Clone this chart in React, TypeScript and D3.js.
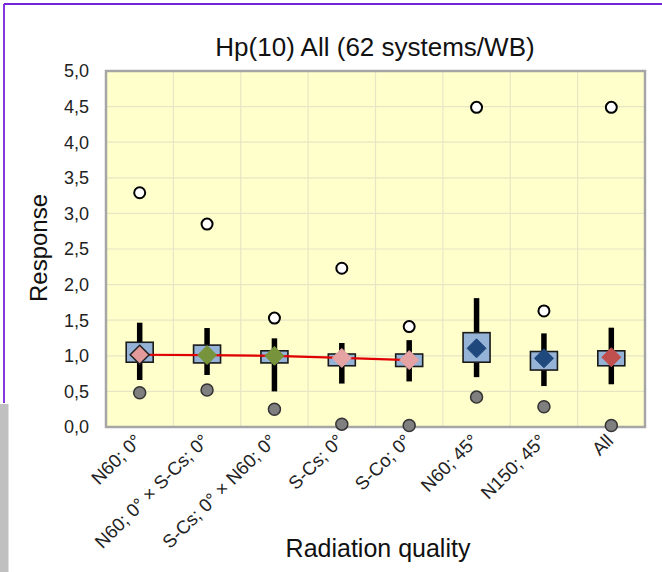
import React from "react";
import * as d3 from "d3";

const width = 662;
const height = 572;

const categories = [
  "N60; 0°",
  "N60; 0° × S-Cs; 0°",
  "S-Cs; 0° × N60; 0°",
  "S-Cs; 0°",
  "S-Co; 0°",
  "N60; 45°",
  "N150; 45°",
  "All",
];
const maxValues = [3.29, 2.85, 1.53, 2.23, 1.41, 4.49, 1.63, 4.49];
const whiskerHigh = [1.465, 1.39, 1.245, 1.18, 1.22, 1.81, 1.315, 1.395];
const q3Values = [1.19, 1.15, 1.07, 1.025, 1.025, 1.325, 1.06, 1.07];
const meanValues = [1.015, 1.01, 1.0, 0.97, 0.94, 1.105, 0.965, 0.98];
const q1Values = [0.91, 0.9, 0.9, 0.86, 0.85, 0.91, 0.8, 0.86];
const whiskerLow = [0.66, 0.73, 0.5, 0.61, 0.64, 0.7, 0.575, 0.6];
const minValues = [0.48, 0.52, 0.25, 0.04, 0.02, 0.42, 0.285, 0.02];
const diamondColors = ["#e29a9a", "#77933c", "#77933c", "#e6a3a3", "#e6a3a3", "#1f497d", "#1f497d", "#c0504d"];
const trendCount = 5; // red line joins the first five means
const yTicks = [0, 0.5, 1, 1.5, 2, 2.5, 3, 3.5, 4, 4.5, 5];

const plot = { left: 106, right: 645, top: 71, bottom: 427 };
const font = "Arial, 'Liberation Sans', sans-serif";

export default function App() {
  const x = d3.scaleBand().domain(categories).range([plot.left, plot.right]);
  const y = d3.scaleLinear().domain([0, 5]).range([plot.bottom, plot.top]);
  const cx = (c: string) => (x(c) as number) + x.bandwidth() / 2;
  const fmt = (v: number) => d3.format(".1f")(v).replace(".", ",");

  const line = d3
    .line<number>()
    .x((_, i) => cx(categories[i]))
    .y((d) => y(d));

  const boxW = 27;
  const dia = 9.5;

  return (
    <svg width={width} height={height} style={{ position: "absolute", left: 0, top: 0 }} fontFamily={font}>
      <rect width={width} height={height} fill="#fff" />
      <line x1={4} y1={4} x2={width} y2={4} stroke="#7424d8" strokeWidth={1.8} />
      <line x1={4} y1={4} x2={4} y2={403} stroke="#7424d8" strokeWidth={1.8} />
      <rect x={0} y={404} width={8.5} height={height - 404} fill="#c0c0c0" />

      <text x={375} y={56} textAnchor="middle" fontSize={26} fill="#111">
        Hp(10) All (62 systems/WB)
      </text>

      <rect x={plot.left} y={plot.top} width={plot.right - plot.left} height={plot.bottom - plot.top} fill="#ffffcc" />
      {yTicks.map((t) => (
        <line key={"h" + t} x1={plot.left} x2={plot.right} y1={y(t)} y2={y(t)} stroke="#e6e6c4" strokeWidth={1.2} />
      ))}
      {categories.slice(1).map((c) => (
        <line key={"v" + c} x1={x(c)} x2={x(c)} y1={plot.top} y2={plot.bottom} stroke="#e6e6c4" strokeWidth={1.2} />
      ))}
      <rect
        x={plot.left}
        y={plot.top}
        width={plot.right - plot.left}
        height={plot.bottom - plot.top}
        fill="none"
        stroke="#a6a6a6"
        strokeWidth={2.5}
      />

      {yTicks.map((t) => (
        <text key={"t" + t} x={89} y={y(t)} dy="0.35em" textAnchor="end" fontSize={18} fill="#222">
          {fmt(t)}
        </text>
      ))}
      <text transform={`translate(47,248) rotate(-90)`} textAnchor="middle" fontSize={24} fill="#111">
        Response
      </text>

      {categories.map((c) => (
        <text
          key={"l" + c}
          transform={`translate(${cx(c) + 3},${442}) rotate(-45)`}
          textAnchor="end"
          fontSize={18.5}
          fill="#222"
        >
          {c}
        </text>
      ))}
      <text x={378} y={557} textAnchor="middle" fontSize={25} fill="#111">
        Radiation quality
      </text>

      {categories.map((c, i) => (
        <line
          key={"w" + c}
          x1={cx(c)}
          x2={cx(c)}
          y1={y(whiskerLow[i])}
          y2={y(whiskerHigh[i])}
          stroke="#000"
          strokeWidth={5.5}
        />
      ))}
      {categories.map((c, i) => (
        <rect
          key={"b" + c}
          x={cx(c) - boxW / 2}
          y={y(q3Values[i])}
          width={boxW}
          height={y(q1Values[i]) - y(q3Values[i])}
          fill="#95b3d7"
          stroke="#1a1a1a"
          strokeWidth={1.6}
        />
      ))}
      <path d={line(meanValues.slice(0, trendCount)) || ""} fill="none" stroke="#e00000" strokeWidth={2.2} />
      {categories.map((c, i) => {
        const px = cx(c);
        const py = y(meanValues[i]);
        return (
          <path
            key={"d" + c}
            d={`M${px},${py - dia}L${px + dia},${py}L${px},${py + dia}L${px - dia},${py}Z`}
            fill={diamondColors[i]}
            stroke={i === 0 ? "#222" : diamondColors[i]}
            strokeWidth={i === 0 ? 1.5 : 1}
          />
        );
      })}
      {categories.map((c, i) => (
        <circle key={"mx" + c} cx={cx(c)} cy={y(maxValues[i])} r={5.5} fill="#fff" stroke="#000" strokeWidth={2} />
      ))}
      {categories.map((c, i) => (
        <circle key={"mn" + c} cx={cx(c)} cy={y(minValues[i])} r={6} fill="#7f7f7f" stroke="#333" strokeWidth={1.5} />
      ))}
    </svg>
  );
}
